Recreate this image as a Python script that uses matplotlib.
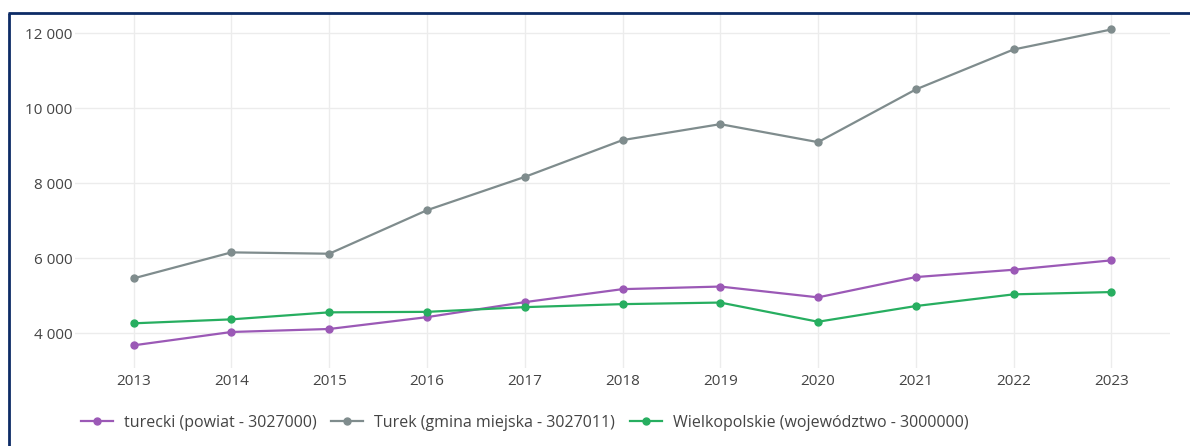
import matplotlib
matplotlib.use("Agg")
import matplotlib.pyplot as plt
from matplotlib.lines import Line2D
from matplotlib.ticker import FuncFormatter

years = [2013, 2014, 2015, 2016, 2017, 2018, 2019, 2020, 2021, 2022, 2023]
turecki = [3680, 4036, 4116, 4432, 4832, 5179, 5248, 4960, 5501, 5696, 5947]
turek = [5467, 6160, 6124, 7285, 8173, 9155, 9581, 9101, 10507, 11573, 12107]
wielkopolskie = [4267, 4373, 4560, 4573, 4699, 4779, 4821, 4309, 4728, 5040, 5101]

labels = ["turecki (powiat - 3027000)",
          "Turek (gmina miejska - 3027011)",
          "Wielkopolskie (województwo - 3000000)"]
colors = ["#9b59b6", "#7f8c8d", "#27ae60"]
yticks = [4000, 6000, 8000, 10000, 12000]

plt.rcParams['font.family'] = ['Open Sans', 'DejaVu Sans']

W, H = 1190, 446
fig = plt.figure(figsize=(W / 100, H / 100), dpi=100)
ax = fig.add_axes([75 / W, 1 - 368 / H, (1170 - 75) / W, (368 - 14) / H])

for vals, col, lab in zip([turecki, turek, wielkopolskie], colors, labels):
    ax.plot(years, vals, color=col, lw=1.6, marker='o', ms=5, label=lab,
            solid_joinstyle='round')

ax.set_xlim(2012.4, 2023.6)
ax.set_ylim(3075, 12520)
ax.set_xticks(years)
ax.set_yticks(yticks)
ax.yaxis.set_major_formatter(FuncFormatter(lambda v, p: f"{int(v):,}".replace(",", " ")))
ax.grid(True, color="#ececec", lw=1)
ax.set_axisbelow(True)
for s in ax.spines.values():
    s.set_visible(False)
ax.tick_params(axis='both', length=0, labelsize=11, labelcolor="#444444")
ax.tick_params(axis='x', pad=4)
ax.tick_params(axis='y', pad=2)

handles = [Line2D([0], [0], color=c, lw=1.6, marker='o', ms=5) for c in colors]
fig.legend(handles, labels, loc='center left', bbox_to_anchor=(81 / W, 1 - 423 / H),
           ncol=3, frameon=False, fontsize=11.5, handlelength=2.0, handletextpad=0.7,
           columnspacing=0.9, labelcolor="#444444", borderaxespad=0, borderpad=0)

# navy frame (top and left edges visible)
fig.add_artist(Line2D([9 / W, 9 / W], [0, 1 - 13 / H], transform=fig.transFigure,
                      color="#0d2b66", lw=2, solid_capstyle='butt'))
fig.add_artist(Line2D([8 / W, 1], [1 - 13 / H, 1 - 13 / H], transform=fig.transFigure,
                      color="#0d2b66", lw=2, solid_capstyle='butt'))

fig.savefig("out.png", dpi=100)
